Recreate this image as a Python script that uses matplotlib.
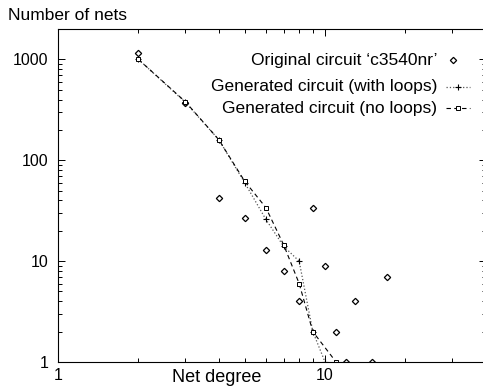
import matplotlib
matplotlib.use('Agg')
import matplotlib.pyplot as plt
from matplotlib.ticker import LogLocator, NullFormatter, FixedLocator, FixedFormatter

plt.rcParams['font.family'] = ['Liberation Sans', 'DejaVu Sans']

# Original circuit 'c3540nr'
orig_deg = [2, 3, 4, 5, 6, 7, 8, 9, 10, 11, 12, 13, 15, 17]
orig_nets = [1160, 372, 42, 27, 13, 8, 4, 34, 9, 2, 1, 4, 1, 7]

# Generated circuit (with loops)
loop_deg = [2, 3, 4, 5, 6, 7, 8, 9, 10]
loop_nets = [1000, 375, 160, 60, 26, 14, 10, 2, 1]

# Generated circuit (no loops)
noloop_deg = [2, 3, 4, 5, 6, 7, 8, 9, 11]
noloop_nets = [1000, 380, 160, 62, 34, 14.5, 6, 2, 1]

legend_labels = ["Original circuit \u2018c3540nr\u2019",
                 "Generated circuit (with loops)",
                 "Generated circuit (no loops)"]

fig = plt.figure(figsize=(4.83, 3.91), dpi=100)
ax = fig.add_axes([58/483, 29/391, 427.8/483, 333/391])

ax.plot(orig_deg, orig_nets, linestyle='none', marker='D', markersize=3.2,
        markerfacecolor='white', markeredgecolor='black', markeredgewidth=0.9)
ax.plot(loop_deg, loop_nets, linestyle=':', color='#555555', linewidth=0.9,
        marker='+', markersize=5, markeredgecolor='black', markeredgewidth=0.8)
ax.plot(noloop_deg, noloop_nets, linestyle=(0, (4, 3)), color='black', linewidth=0.8,
        marker='s', markersize=2.8, markerfacecolor='white', markeredgecolor='black',
        markeredgewidth=0.7)

ax.set_xscale('log')
ax.set_yscale('log')
ax.set_xlim(1, 40)
ax.set_ylim(1, 2000)

ax.xaxis.set_major_locator(FixedLocator([1, 10]))
ax.xaxis.set_major_formatter(FixedFormatter(['1', '10']))
ax.xaxis.set_minor_locator(LogLocator(base=10, subs=range(2, 10)))
ax.xaxis.set_minor_formatter(NullFormatter())
ax.yaxis.set_major_locator(FixedLocator([1, 10, 100, 1000]))
ax.yaxis.set_major_formatter(FixedFormatter(['1', '10', '100', '1000']))
ax.yaxis.set_minor_locator(LogLocator(base=10, subs=range(2, 10)))
ax.yaxis.set_minor_formatter(NullFormatter())

ax.tick_params(which='both', direction='in', top=True, right=True,
               labelsize=11.5, width=0.7)
ax.tick_params(which='major', length=5)
ax.tick_params(axis='y', which='major', pad=7)
ax.tick_params(axis='x', which='major', pad=4)
ax.tick_params(which='minor', length=3)
for s in ax.spines.values():
    s.set_linewidth(0.8)

fig.text(217/483, 1 - 377/391, 'Net degree', fontsize=13, ha='center', va='center')
fig.text(8/483, 1 - 15/391, 'Number of nets', fontsize=12.5, va='center', ha='left')

# gnuplot-style legend: right-aligned text, sample at right
rows_y = [60, 87, 108]
for i, (lab, yy) in enumerate(zip(legend_labels, rows_y)):
    fy = 1 - yy/391
    fig.text(437/483, fy, lab, fontsize=12.5, ha='right', va='center')
    if i == 0:
        fig.lines.append(plt.Line2D([453/483], [fy], transform=fig.transFigure,
                                    linestyle='none', marker='D', markersize=3.2,
                                    markerfacecolor='white', markeredgecolor='black',
                                    markeredgewidth=0.9))
    elif i == 1:
        fig.lines.append(plt.Line2D([446/483, 470/483], [fy, fy], transform=fig.transFigure,
                                    linestyle=':', color='#555555', linewidth=0.9))
        fig.lines.append(plt.Line2D([458/483], [fy], transform=fig.transFigure,
                                    linestyle='none', marker='+', markersize=5,
                                    markeredgecolor='black', markeredgewidth=0.8))
    else:
        fig.lines.append(plt.Line2D([446/483, 470/483], [fy, fy], transform=fig.transFigure,
                                    linestyle=(0, (4, 3)), color='black', linewidth=0.8))
        fig.lines.append(plt.Line2D([458/483], [fy], transform=fig.transFigure,
                                    linestyle='none', marker='s', markersize=2.8,
                                    markerfacecolor='white', markeredgecolor='black',
                                    markeredgewidth=0.7))

fig.savefig('out.png', dpi=100)
